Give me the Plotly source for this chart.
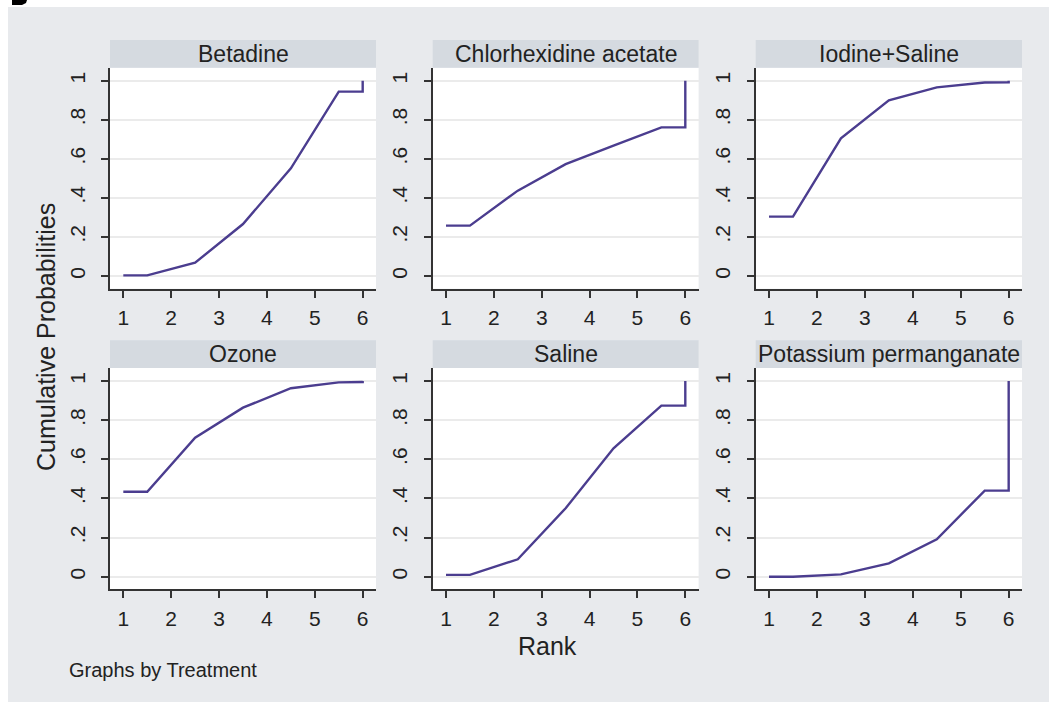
import plotly.graph_objects as go

# ---- data ----
treatments = ["Betadine", "Chlorhexidine acetate", "Iodine+Saline",
              "Ozone", "Saline", "Potassium permanganate"]
rank_pos = [1, 1.5, 2.5, 3.5, 4.5, 5.5, 6, 6]
betadine = [0.003, 0.003, 0.068, 0.266, 0.551, 0.944, 0.944, 1.0]
chlorhexidine = [0.258, 0.258, 0.437, 0.573, 0.668, 0.761, 0.761, 1.0]
iodine_saline = [0.304, 0.304, 0.705, 0.900, 0.966, 0.991, 0.992, 1.0]
ozone = [0.434, 0.434, 0.710, 0.864, 0.963, 0.993, 0.995, 1.0]
saline = [0.009, 0.009, 0.089, 0.350, 0.656, 0.874, 0.874, 1.0]
potassium = [0.0, 0.0, 0.012, 0.068, 0.191, 0.440, 0.440, 1.0]
series = [betadine, chlorhexidine, iodine_saline, ozone, saline, potassium]
x_ticks = [1, 2, 3, 4, 5, 6]
y_ticks = [0, 0.2, 0.4, 0.6, 0.8, 1.0]
y_tick_labels = ["0", ".2", ".4", ".6", ".8", "1"]

W, H = 1049, 704
LINE = "#4b3d8f"
BG = "#e8eaed"
STRIP = "#d5dae0"
FONT = "Liberation Sans, Arial, sans-serif"
TXT = "#222222"

cols = [(110, 376), (432.7, 698.6), (755.7, 1022)]
rows = [(67.8, 288.7), (368.1, 589.4)]
strip_h = 27.8

def px_x(p):
    return p / W

def px_y(p):
    return 1 - p / H

fig = go.Figure()
layout = dict(
    width=W, height=H, margin=dict(l=0, r=0, t=0, b=0),
    paper_bgcolor="white", showlegend=False,
    font=dict(family=FONT, color=TXT),
)
shapes = [dict(type="rect", xref="paper", yref="paper",
               x0=px_x(8), x1=1, y0=px_y(702), y1=px_y(7),
               fillcolor=BG, line=dict(width=0), layer="below"),
          # cropped fragment of a panel letter at the top-left edge
          dict(type="path", xref="paper", yref="paper",
               path=(f"M {px_x(12)} {px_y(0)} L {px_x(27)} {px_y(0)} "
                     f"L {px_x(26)} {px_y(3)} L {px_x(22)} {px_y(5)} "
                     f"L {px_x(12)} {px_y(5)} Z"),
               fillcolor="black", line=dict(width=0))]
annotations = []

for i, (name, vals) in enumerate(zip(treatments, series)):
    r, c = divmod(i, 3)
    n = i + 1
    xa = "xaxis" if n == 1 else f"xaxis{n}"
    ya = "yaxis" if n == 1 else f"yaxis{n}"
    xr = "x" if n == 1 else f"x{n}"
    yr = "y" if n == 1 else f"y{n}"
    left, right = cols[c]
    top, bottom = rows[r]
    fig.add_trace(go.Scatter(x=rank_pos, y=vals, mode="lines",
                             line=dict(color=LINE, width=2.4),
                             xaxis=xr, yaxis=yr, hoverinfo="skip"))
    layout[xa] = dict(domain=[px_x(left), px_x(right)], range=[0.722, 6.278],
                      anchor=yr, tickvals=x_ticks, ticks="outside", ticklen=7,
                      tickwidth=1.8, tickcolor="#333", showline=True,
                      linecolor="#333", linewidth=1.8, showgrid=False,
                      zeroline=False, tickfont=dict(size=21, color=TXT),
                      ticklabelstandoff=2, fixedrange=True)
    layout[ya] = dict(domain=[px_y(bottom), px_y(top)], range=[-0.065, 1.066],
                      anchor=xr, tickvals=y_ticks, ticktext=y_tick_labels,
                      tickangle=-90, ticks="outside", ticklen=7, tickwidth=1.8,
                      tickcolor="#333", showline=True, linecolor="#333",
                      linewidth=1.8, showgrid=True, gridcolor="#ebebeb",
                      gridwidth=1.5, zeroline=False,
                      tickfont=dict(size=21, color=TXT),
                      ticklabelstandoff=8, fixedrange=True)
    shapes.append(dict(type="rect", xref="paper", yref="paper",
                       x0=px_x(left), x1=px_x(right),
                       y0=px_y(bottom), y1=px_y(top),
                       fillcolor="white", line=dict(width=0), layer="below"))
    shapes.append(dict(type="rect", xref="paper", yref="paper",
                       x0=px_x(left), x1=px_x(right),
                       y0=px_y(top), y1=px_y(top - strip_h),
                       fillcolor=STRIP, line=dict(width=0), layer="below"))
    annotations.append(dict(text=name, xref="paper", yref="paper",
                            x=px_x((left + right) / 2),
                            y=px_y(top - strip_h / 2),
                            xanchor="center", yanchor="middle",
                            showarrow=False,
                            font=dict(size=23, color=TXT, family=FONT)))

annotations += [
    dict(text="Cumulative Probabilities", xref="paper", yref="paper",
         x=px_x(46), y=px_y(337), textangle=-90, showarrow=False,
         xanchor="center", yanchor="middle",
         font=dict(size=25, color=TXT, family=FONT)),
    dict(text="Rank", xref="paper", yref="paper", x=px_x(547), y=px_y(646),
         showarrow=False, xanchor="center", yanchor="middle",
         font=dict(size=25, color=TXT, family=FONT)),
    dict(text="Graphs by Treatment", xref="paper", yref="paper",
         x=px_x(67), y=px_y(670), showarrow=False, xanchor="left",
         yanchor="middle", font=dict(size=20, color=TXT, family=FONT)),
]

layout["shapes"] = shapes
layout["annotations"] = annotations
layout["plot_bgcolor"] = "rgba(0,0,0,0)"
fig.update_layout(**layout)
fig.write_html("out.html")
